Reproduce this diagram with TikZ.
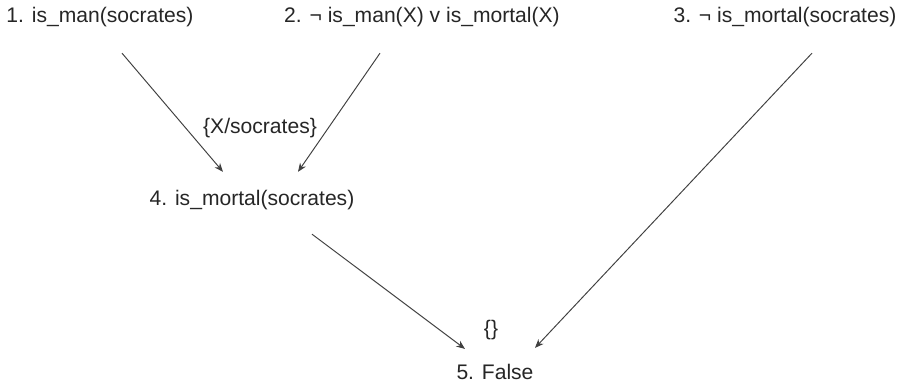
\documentclass[tikz,border=0pt]{standalone}
\usepackage{fontspec}
\setmainfont{Liberation Sans}
\usetikzlibrary{arrows.meta, calc}

\begin{document}
\begin{tikzpicture}[x=0.02cm, y=-0.02cm,
    clause/.style={font=\fontsize{12}{14}\selectfont, text=black!85, inner sep=0pt},
    unif/.style={font=\fontsize{12}{14}\selectfont, text=black!85, inner sep=0pt},
    res/.style={draw=black!75, line width=0.55pt, -{Stealth[length=5pt, width=4pt]}}]
    \useasboundingbox (0, 0) rectangle (897, 385);

    % Clauses of the knowledge base
    \node[clause] (c1) at (100, 17) {1. is\_man(socrates)};
    \node[clause] (c2) at (422, 17) {2. ¬ is\_man(X) v is\_mortal(X)};
    \node[clause] (c3) at (785, 17) {3. ¬ is\_mortal(socrates)};

    % Resolvents
    \node[clause] (c4) at (252, 200) {4. is\_mortal(socrates)};
    \node[clause] (c5) at (495, 372) {5. False};

    % Substitutions
    \node[unif] (s1) at (260, 128) {\{X/socrates\}};
    \node[unif] (s2) at (491, 330) {\{\}};

    % Resolution steps
    \draw[res] ($(c1.south)+(22, 26)$) -- ($(c4.north)+(-29, -18)$);
    \draw[res] ($(c2.south)+(-42, 26)$) -- ($(c4.north)+(46, -18)$);
    \draw[res] ($(c4.south)+(60, 24)$) -- ($(c5.north)+(-30, -15)$);
    \draw[res] ($(c3.south)+(27, 26)$) -- ($(c5.north)+(40, -16)$);
\end{tikzpicture}
\end{document}
